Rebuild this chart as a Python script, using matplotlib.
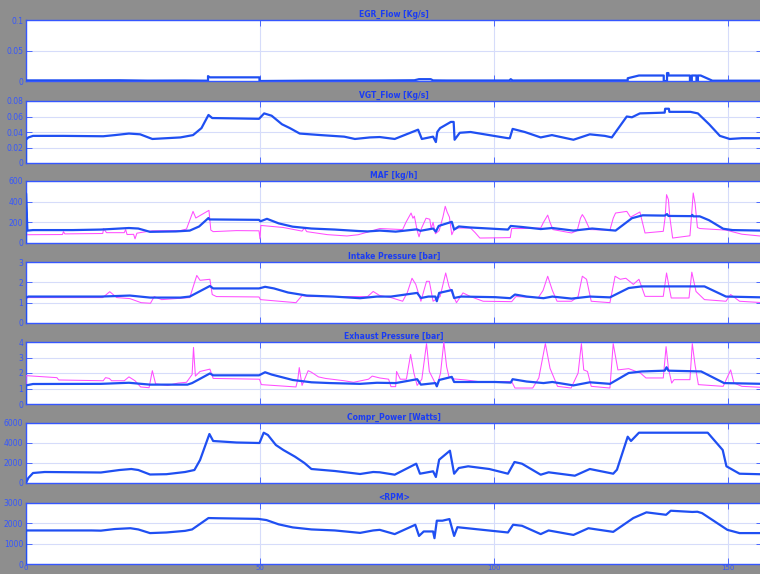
import matplotlib
matplotlib.use('Agg')
import matplotlib.pyplot as plt

# (time, value) points for each signal, time in s
egr_flow = [(0, 0.001), (10, 0.001), (20, 0.0012), (26, 0.0006), (34, 0.0008), (38.9, 0.0005),
            (38.9, 0.008), (39.3, 0.006), (49.9, 0.006), (49.9, 0.0), (60, 0.0005), (75, 0.0008),
            (83, 0.0012), (84, 0.003), (86.5, 0.003), (87, 0.001), (90, 0.0008), (103.3, 0.0008),
            (103.6, 0.003), (104, 0.0008), (115, 0.001), (128.6, 0.001), (128.6, 0.0045),
            (131, 0.009), (136.3, 0.009), (136.3, 0.0), (137.0, 0.0), (137.0, 0.013), (137.3, 0.013),
            (137.3, 0.009), (141.9, 0.009), (141.9, 0.0), (142.3, 0.0), (142.3, 0.009), (143.3, 0.009),
            (143.3, 0.0), (143.6, 0.0), (143.6, 0.009), (144.2, 0.009), (146.7, 0.0005), (157.5, 0.0005)]

vgt_flow = [(0, 0), (0, 0.03), (0.5, 0.033), (1.5, 0.035), (8, 0.035), (16.5, 0.0345), (19, 0.036),
            (22, 0.038), (24.4, 0.037), (27, 0.031), (30, 0.032), (33, 0.033), (35.7, 0.036),
            (37.5, 0.045), (39, 0.062), (39.8, 0.058), (45, 0.0575), (49.8, 0.057), (50.9, 0.064),
            (52.5, 0.061), (54.7, 0.05), (56.4, 0.045), (58.5, 0.038), (63, 0.036), (68, 0.034),
            (70.3, 0.031), (73.5, 0.033), (75.6, 0.0335), (78.8, 0.031), (83.8, 0.043), (84.6, 0.031),
            (87, 0.034), (87.6, 0.027), (87.9, 0.04), (88.5, 0.045), (90.8, 0.053), (91.4, 0.053),
            (91.6, 0.03), (92.7, 0.039), (95, 0.04), (99, 0.036), (103, 0.032), (103.4, 0.032),
            (104, 0.044), (106.6, 0.04), (110, 0.033), (112.4, 0.036), (117, 0.030), (120.5, 0.037),
            (123.7, 0.035), (125.2, 0.033), (128.4, 0.06), (129.5, 0.059), (131.2, 0.064),
            (136.5, 0.065), (136.6, 0.07), (137.4, 0.07), (137.5, 0.066), (142, 0.066),
            (143.6, 0.064), (146, 0.05), (148.3, 0.035), (150.4, 0.031), (153, 0.032), (157.5, 0.032)]

maf_model = [(0, 0), (0, 480), (0.3, 120), (1.5, 125), (10, 125), (16, 130), (22, 145), (24, 140),
             (26.5, 108), (32, 112), (35, 120), (37, 160), (39, 242), (39.2, 228), (49.8, 224),
             (50.1, 210), (51.5, 234), (54, 190), (57, 158), (61, 140), (66, 130), (71, 116),
             (73, 112), (75.6, 120), (79, 110), (83.5, 132), (84.3, 118), (87, 140), (87.6, 110),
             (88.2, 165), (91, 205), (91.5, 130), (92.5, 160), (95, 150), (103, 130), (103.6, 165),
             (106, 155), (110, 135), (112.5, 145), (117, 120), (121, 140), (126, 120), (129.5, 240),
             (131.8, 268), (136.5, 265), (137, 280), (137.3, 262), (142.2, 260), (142.4, 272),
             (142.6, 258), (144, 258), (146, 220), (149, 138), (151, 125), (157.5, 120)]

maf_meas = [(0, 80), (7.8, 82), (8, 110), (8.3, 88), (16.4, 92), (16.6, 140), (17.2, 100), (21, 100),
            (21.3, 130), (21.6, 82), (23, 84), (23.3, 40), (23.7, 95), (25, 105), (27, 118), (33, 120),
            (34.3, 135), (35.7, 306), (36.3, 242), (39.1, 316), (39.5, 125), (40, 110), (45, 120),
            (49.8, 118), (50.0, 40), (50.2, 170), (55, 150), (59, 115), (59.5, 145), (60, 110),
            (64.4, 81), (68.6, 68), (71, 80), (73.6, 113), (75.6, 140), (78, 135), (80.5, 130),
            (81.2, 200), (82.3, 290), (82.7, 240), (83, 260), (83.6, 120), (84, 60), (84.5, 140),
            (85.5, 240), (86.3, 230), (86.6, 140), (87, 200), (87.5, 90), (88.3, 120), (89.1, 250),
            (89.6, 355), (90, 300), (90.5, 250), (91, 80), (91.5, 130), (92.5, 145), (95, 145),
            (96, 100), (97, 48), (103.5, 52), (103.8, 140), (106, 140), (110, 145), (110.6, 200),
            (111.5, 270), (112, 200), (112.6, 130), (116.6, 97), (117.8, 120), (118.5, 240),
            (118.9, 275), (119.4, 240), (120.5, 130), (124.8, 125), (125.5, 240), (126, 290),
            (128.4, 306), (129.2, 250), (131.2, 300), (132.3, 97), (136.2, 113), (136.6, 250),
            (136.9, 468), (137.3, 420), (137.6, 250), (138.2, 48), (141.9, 70), (142.3, 300),
            (142.6, 484), (143, 380), (143.5, 150), (144, 140), (149.6, 125), (153, 85), (157.5, 65)]

intake_model = [(0, 0), (0, 1.25), (0.5, 1.3), (16, 1.3), (22.2, 1.35), (26.5, 1.25), (33, 1.25),
                (35, 1.3), (39.3, 1.82), (40, 1.7), (49.8, 1.7), (51.1, 1.78), (53, 1.7), (56, 1.5),
                (60, 1.35), (65.7, 1.3), (71.4, 1.22), (75, 1.3), (78, 1.3), (83.6, 1.48),
                (84.4, 1.23), (86, 1.3), (87.5, 1.3), (87.8, 1.07), (88.3, 1.48), (91, 1.62),
                (91.5, 1.23), (93, 1.3), (100.3, 1.27), (103.5, 1.22), (104.5, 1.4), (107, 1.3),
                (110.6, 1.22), (112.5, 1.3), (116.6, 1.2), (120.5, 1.3), (124.8, 1.26), (128.8, 1.72),
                (131.6, 1.8), (145, 1.8), (149.6, 1.3), (157.5, 1.26)]

intake_meas = [(0, 0), (0, 1.2), (0.5, 1.25), (16.4, 1.25), (17.9, 1.54), (19.4, 1.25), (22.2, 1.2),
               (24.6, 1.0), (26.6, 0.97), (27.4, 1.3), (29, 1.15), (32, 1.2), (35, 1.25), (36.5, 2.34),
               (37.2, 2.1), (39.3, 2.15), (39.8, 1.4), (40.7, 1.3), (49.8, 1.28), (50.1, 1.15),
               (57.7, 1.0), (59, 1.35), (60.3, 1.3), (73, 1.3), (74.2, 1.55), (75.6, 1.35),
               (78, 1.25), (80.5, 1.07), (81.5, 1.5), (82.5, 2.2), (83.3, 1.9), (84.4, 1.07),
               (85.6, 2.05), (86.2, 2.05), (87, 1.07), (88.5, 1.3), (89.7, 2.46), (90.4, 1.8),
               (92, 1.0), (93.4, 1.48), (95, 1.3), (97.7, 1.07), (103.8, 1.05), (104.7, 1.3),
               (109.5, 1.25), (110.5, 1.6), (111.5, 2.3), (112.5, 1.6), (113.5, 1.07), (116.6, 1.07),
               (118, 1.3), (118.9, 2.3), (119.8, 2.15), (120.8, 1.07), (124.8, 1.0), (125.9, 2.3),
               (127, 2.15), (128.2, 2.2), (129.8, 1.9), (131, 2.15), (132.3, 1.31), (136.2, 1.31),
               (136.9, 2.46), (137.5, 1.7), (137.9, 1.23), (141.7, 1.23), (142.3, 2.5), (143.2, 1.55),
               (145, 1.15), (149.6, 1.07), (150.6, 1.4), (152.5, 1.07), (157.5, 1.0)]

exhaust_model = [(0, 0), (0, 1.2), (1.5, 1.29), (16, 1.3), (22, 1.37), (26.5, 1.25), (34.5, 1.25),
                 (35.5, 1.35), (39.3, 1.97), (40, 1.85), (49.8, 1.85), (51.1, 2.05), (52.5, 1.9),
                 (57, 1.55), (61, 1.4), (65, 1.35), (71.4, 1.3), (75, 1.37), (79, 1.35), (83.6, 1.6),
                 (84.4, 1.25), (87.5, 1.35), (87.8, 1.14), (88.3, 1.55), (91, 1.75), (91.5, 1.42),
                 (100.3, 1.42), (103.6, 1.38), (104, 1.6), (107, 1.45), (110.6, 1.35), (112.5, 1.42),
                 (117, 1.2), (120.5, 1.4), (124.8, 1.3), (128.8, 2.0), (131.6, 2.1), (136.5, 2.15),
                 (136.9, 2.37), (137.3, 2.15), (144.3, 2.1), (149.2, 1.35), (157.5, 1.3)]

exhaust_meas = [(0, 0), (0, 1.83), (6.6, 1.7), (7, 1.55), (16.5, 1.5), (17, 1.7), (17.8, 1.65),
                (18.3, 1.5), (21, 1.5), (22, 1.75), (23.3, 1.5), (24.5, 1.1), (26.3, 1.05), (27, 2.15),
                (27.7, 1.3), (30.3, 1.2), (32.5, 1.35), (34.3, 1.4), (35.5, 1.9), (35.8, 3.65),
                (36.2, 1.8), (37.2, 2.1), (39.3, 2.25), (40, 1.65), (49.9, 1.6), (50.3, 1.25),
                (57.7, 1.1), (58.1, 1.6), (58.4, 2.35), (59, 1.2), (60.3, 2.15), (61, 2.05),
                (62.5, 1.75), (64, 1.65), (68, 1.5), (70, 1.4), (73.2, 1.6), (74, 1.8), (75.6, 1.68),
                (77.5, 1.6), (78, 1.12), (79, 1.12), (79.2, 2.1), (80, 1.6), (81.3, 1.6), (82.2, 3.2),
                (82.9, 2.0), (83.6, 1.2), (84.6, 1.6), (85.6, 3.9), (86.2, 2.1), (87.2, 1.5),
                (87.8, 1.12), (88.6, 2.0), (89.3, 4.0), (89.9, 2.4), (90.4, 1.75), (91.4, 1.62),
                (94, 1.55), (96.6, 1.45), (103.8, 1.45), (104.5, 1.03), (108.3, 1.03), (109.6, 1.68),
                (111, 3.9), (112, 2.3), (113.6, 1.14), (116.5, 1.03), (118, 2.0), (118.7, 3.9),
                (119.2, 2.2), (120, 2.1), (120.8, 1.14), (124.8, 1.03), (125.5, 3.9), (126.5, 2.2),
                (128.8, 2.28), (131.3, 2.0), (132.5, 1.68), (136.2, 1.68), (136.8, 3.7), (137.3, 2.3),
                (138, 1.35), (138.5, 1.57), (141.9, 1.57), (142.4, 3.9), (143, 2.5), (143.7, 1.25),
                (149, 1.14), (150, 1.8), (150.6, 2.2), (151.3, 1.35), (153, 1.14), (157.5, 1.07)]

compr_power = [(0, 0), (0.5, 500), (1.5, 1000), (4, 1100), (16, 1050), (20, 1300), (22.5, 1400),
               (24, 1300), (26.5, 850), (30, 880), (34, 1100), (36, 1300), (37.2, 2300), (39.2, 4900),
               (40, 4200), (45, 4050), (49.9, 4000), (50.8, 5030), (51.7, 4800), (53.4, 3800),
               (55, 3300), (57.5, 2630), (59.5, 2000), (61, 1400), (66, 1200), (71.4, 900),
               (74.2, 1100), (75.6, 1070), (78.8, 830), (83.4, 1930), (84.2, 930), (87, 1170),
               (87.6, 600), (88.3, 2330), (90.6, 3230), (91.5, 930), (92.5, 1500), (94.5, 1670),
               (99, 1400), (103, 930), (104.4, 2100), (106, 1930), (110, 830), (111.7, 1070),
               (117.3, 730), (120.5, 1400), (125.5, 930), (126.3, 1330), (128.6, 4630), (129.3, 4200),
               (131, 5030), (145.7, 5030), (148.9, 3300), (149.7, 1670), (152.5, 930), (157.5, 870)]

rpm = [(0, 0), (0, 1650), (14, 1650), (16, 1640), (19, 1720), (22.3, 1760), (24, 1700), (26.5, 1520),
       (30, 1550), (34, 1630), (35.5, 1700), (39, 2260), (41, 2250), (49.6, 2220), (51.4, 2160),
       (54, 1950), (57, 1800), (61, 1700), (66, 1650), (71.4, 1530), (74.2, 1650), (75.6, 1680),
       (78.8, 1470), (83.2, 1930), (84, 1380), (85, 1600), (87, 1600), (87.3, 1270), (87.8, 2130),
       (89, 2130), (90.5, 2210), (91.5, 1380), (92.2, 1810), (103, 1550), (104.1, 1930),
       (106, 1880), (110, 1470), (111.7, 1650), (117, 1430), (120.2, 1760), (125.5, 1580),
       (129.8, 2260), (132.6, 2540), (136.8, 2420), (137.8, 2620), (142.4, 2560), (143.5, 2570),
       (144.5, 2500), (149.9, 1680), (152.5, 1520), (157.5, 1520)]

titles = ['EGR_Flow [Kg/s]', 'VGT_Flow [Kg/s]', 'MAF [kg/h]', 'Intake Pressure [bar]',
          'Exhaust Pressure [bar]', 'Compr_Power [Watts]', '<RPM>']
y_ticks = [[0, 0.05, 0.1], [0, 0.02, 0.04, 0.06, 0.08], [0, 200, 400, 600], [0, 1, 2, 3],
           [0, 1, 2, 3, 4], [0, 2000, 4000, 6000], [0, 1000, 2000, 3000]]
y_labels = [['0', '0.05', '0.1'], ['0', '0.02', '0.04', '0.06', '0.08'], ['0', '200', '400', '600'],
            ['0', '1', '2', '3'], ['0', '1', '2', '3', '4'], ['0', '2000', '4000', '6000'],
            ['0', '1000', '2000', '3000']]
x_ticks = [0, 50, 100, 150]

model_series = [egr_flow, vgt_flow, maf_model, intake_model, exhaust_model, compr_power, rpm]
meas_series = [None, None, maf_meas, intake_meas, exhaust_meas, None, None]

BLUE = '#1f4ff2'
MAGENTA = '#ff4dff'
AXBLUE = '#3557ff'
GRIDC = '#d6dcfa'

W, H = 760, 574
fig = plt.figure(figsize=(W / 100, H / 100), dpi=100, facecolor='#8e8e8e')

# panel top/bottom edges in pixels; right edge runs just past the figure
rows = [(20, 81), (101, 163), (181, 243), (262, 323), (342, 404), (423, 483), (503, 564)]
left, width = 26, 736

for i, (top, bot) in enumerate(rows):
    ax = fig.add_axes([left / W, 1 - bot / H, width / W, (bot - top) / H])
    ax.set_facecolor('white')
    if meas_series[i] is not None:
        t, v = zip(*meas_series[i])
        ax.plot(t, v, color=MAGENTA, lw=0.75, zorder=3)
    t, v = zip(*model_series[i])
    ax.plot(t, v, color=BLUE, lw=1.6, zorder=4)

    ax.set_xlim(0, 157.3)
    ax.set_ylim(y_ticks[i][0], y_ticks[i][-1])
    ax.set_yticks(y_ticks[i])
    ax.set_yticklabels(y_labels[i])
    ax.set_xticks(x_ticks)
    if i == len(rows) - 1:
        ax.set_xticklabels([str(x) for x in x_ticks])
    else:
        ax.set_xticklabels([])
    ax.grid(True, color=GRIDC, lw=0.8, zorder=0)
    ax.set_axisbelow(True)
    for s in ax.spines.values():
        s.set_color(AXBLUE)
        s.set_linewidth(1.0)
    ax.tick_params(axis='both', direction='in', length=4, width=0.6, color=AXBLUE,
                   labelcolor=AXBLUE, labelsize=5.5, pad=2, right=True, top=True)
    ax.tick_params(axis='x', labelsize=5, pad=1)
    ax.set_title(titles[i], fontsize=5.5, fontweight='bold', color='#1a3cf5', pad=2.5)

fig.savefig('out.png', dpi=100, facecolor=fig.get_facecolor())
